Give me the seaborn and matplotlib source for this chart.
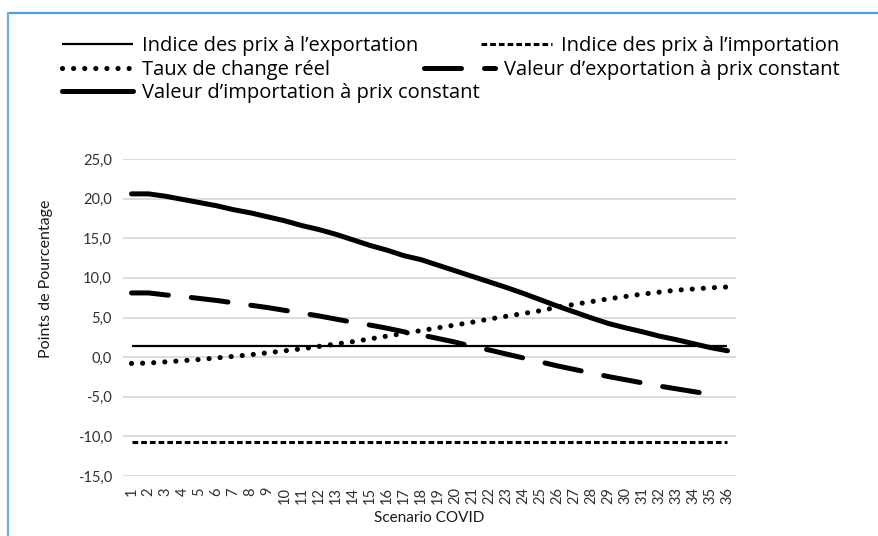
import numpy as np
import pandas as pd
import matplotlib
matplotlib.use("Agg")
import matplotlib.pyplot as plt
from matplotlib.lines import Line2D
import seaborn as sns

# ---------------- data ----------------
scenarios = list(range(1, 37))
tick_labels = [str(s) for s in scenarios]

export_price_index = [1.4] * 36
import_price_index = [-10.7] * 36
real_exchange_rate = [-0.8, -0.75, -0.6, -0.45, -0.3, -0.1, 0.1, 0.3, 0.55, 0.8,
                      1.05, 1.35, 1.65, 1.95, 2.3, 2.65, 3.0, 3.35, 3.7, 4.05,
                      4.4, 4.8, 5.15, 5.5, 5.85, 6.3, 6.65, 7.0, 7.35, 7.65,
                      7.95, 8.2, 8.45, 8.6, 8.75, 8.85]
export_value_const = [8.1, 8.1, 7.85, 7.65, 7.4, 7.15, 6.85, 6.55, 6.25, 5.9,
                      5.55, 5.2, 4.8, 4.4, 4.05, 3.65, 3.2, 2.8, 2.35, 1.9,
                      1.35, 0.9, 0.4, -0.1, -0.6, -1.1, -1.55, -2.0, -2.45, -2.85,
                      -3.25, -3.65, -4.0, -4.35, -4.7]
import_value_const = [20.6, 20.6, 20.3, 19.9, 19.5, 19.1, 18.6, 18.2, 17.7, 17.2,
                      16.6, 16.1, 15.5, 14.8, 14.1, 13.5, 12.8, 12.3, 11.6, 10.9,
                      10.2, 9.5, 8.8, 8.05, 7.25, 6.45, 5.7, 4.95, 4.25, 3.7,
                      3.2, 2.65, 2.2, 1.7, 1.2, 0.8]

labels = ["Indice des prix à l’exportation",
          "Indice des prix à l’importation",
          "Taux de change réel",
          "Valeur d’exportation à prix constant",
          "Valeur d’importation à prix constant"]
y_ticks = [-15, -10, -5, 0, 5, 10, 15, 20, 25]

# ---------------- style ----------------
sns.set_theme(style="white")
plt.rcParams["font.family"] = ["Lato", "DejaVu Sans"]

fig = plt.figure(figsize=(8.79, 5.36), dpi=100)
ax = fig.add_axes([123 / 879, 60 / 536, 613 / 879, 317 / 536])

series = [
    (scenarios, export_price_index, dict(lw=1.6, linestyle="-", solid_capstyle="butt")),
    (scenarios, import_price_index, dict(lw=2.2, linestyle=(0, (1.85, 1.0)), dash_capstyle="butt")),
    (scenarios, real_exchange_rate, dict(lw=3.7, linestyle=(0, (0.01, 2.15)), dash_capstyle="round")),
    (scenarios[:len(export_value_const)], export_value_const,
     dict(lw=3.6, linestyle=(0, (7.4, 4.6)), dash_capstyle="round")),
    (scenarios, import_value_const, dict(lw=3.6, linestyle="-", solid_capstyle="round")),
]

handles = []
for (xs, ys, kw), lab in zip(series, labels):
    sns.lineplot(x=xs, y=ys, ax=ax, color="black", legend=False, **kw)
    handles.append(Line2D([], [], color="black", **kw))

ax.set_xlim(0.5, 36.5)
ax.set_ylim(-15, 25)
ax.set_yticks(y_ticks)
ax.set_yticklabels([f"{v:.1f}".replace(".", ",") for v in y_ticks])
ax.set_xticks(scenarios)
ax.set_xticklabels(tick_labels, rotation=90)
ax.yaxis.grid(True, color="#D9D9D9", lw=1.3)
ax.set_axisbelow(True)
for s in ax.spines.values():
    s.set_visible(False)
ax.tick_params(axis="both", length=0, labelsize=10.5, colors="#303030")
ax.tick_params(axis="y", pad=8)
ax.tick_params(axis="x", pad=8)

ax.set_ylabel("Points de Pourcentage", fontsize=11.5, color="#1A1A1A")
ax.yaxis.set_label_coords(-0.114, 0.623)
ax.set_xlabel("Scenario COVID", fontsize=11, color="#1A1A1A")
ax.xaxis.set_label_coords(0.5, -0.11)

# ---------------- legend ----------------
leg_font = {"family": ["Open Sans", "DejaVu Sans"], "size": 14.5}
handle_px = 71
text_pad_px = 9
size_px = 14.5 * 100 / 72
leg_kw = dict(frameon=False, borderpad=0, borderaxespad=0,
              handlelength=handle_px / size_px, handletextpad=text_pad_px / size_px,
              loc="center left", prop=leg_font, labelcolor="black")
positions = [(62, 46), (481, 46), (62, 70), (424, 70), (62, 93)]
for h, lab, (px, py) in zip(handles, labels, positions):
    fig.legend([h], [lab], bbox_to_anchor=(px / 879, 1 - py / 536), **leg_kw)

# ---------------- frame ----------------
fig.add_artist(Line2D([8 / 879, 1.0], [1 - 12.5 / 536, 1 - 12.5 / 536],
                      transform=fig.transFigure, color="#4A9FDF", lw=1.6))
fig.add_artist(Line2D([8 / 879, 8 / 879], [0, 1 - 12.5 / 536],
                      transform=fig.transFigure, color="#6AADE4", lw=1.6))

fig.savefig("out.png", dpi=100)
